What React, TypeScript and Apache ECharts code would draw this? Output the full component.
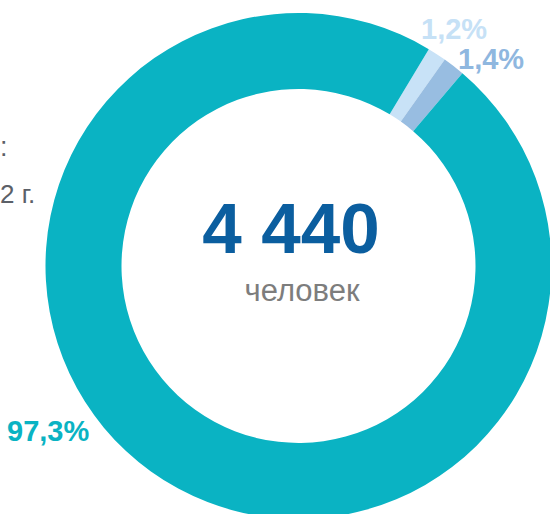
import React, { useEffect, useRef } from "react";
import * as echarts from "echarts";

const categories = ["Группа A", "Группа B", "Группа C"];
const shares = [1.2, 1.4, 97.3];
const shareLabels = ["1,2%", "1,4%", "97,3%"];
const sliceColors = ["#c8e2f7", "#98bde1", "#0ab3c3"];
const labelColors = ["#c6e1f6", "#8fb7df", "#0ab3c3"];
const totalText = "4 440";
const unitText = "человек";
const leftTexts = [":", "2 г."];

const FONT = "'Liberation Sans', Arial, sans-serif";

export default function App() {
  const ref = useRef<HTMLDivElement>(null);
  useEffect(() => {
    document.body.style.margin = "0";
    const chart = echarts.init(ref.current!, null, { renderer: "svg" });
    const labelPos = [
      [421, 29],
      [458, 59],
      [7, 431],
    ];
    chart.setOption({
      animation: false,
      series: [
        {
          type: "pie",
          center: [298.5, 266],
          radius: [177, 253],
          startAngle: 59,
          clockwise: true,
          silent: true,
          label: { show: false },
          labelLine: { show: false },
          itemStyle: { borderWidth: 0 },
          data: categories.map((c, i) => ({
            name: c,
            value: shares[i],
            itemStyle: { color: sliceColors[i] },
          })),
        },
      ],
      graphic: [
        ...shareLabels.map((t, i) => ({
          type: "text",
          x: labelPos[i][0],
          y: labelPos[i][1],
          style: {
            text: t,
            fill: labelColors[i],
            font: `bold 29px ${FONT}`,
            textAlign: "left",
            textVerticalAlign: "middle",
          },
        })),
        {
          type: "text",
          x: 291,
          y: 228,
          style: {
            text: totalText,
            fill: "#0b5e9f",
            font: `bold 71px ${FONT}`,
            textAlign: "center",
            textVerticalAlign: "middle",
          },
        },
        {
          type: "text",
          x: 302,
          y: 290,
          style: {
            text: unitText,
            fill: "#7d7d7d",
            font: `31px ${FONT}`,
            textAlign: "center",
            textVerticalAlign: "middle",
          },
        },
        {
          type: "text",
          x: 0,
          y: 147,
          style: {
            text: leftTexts[0],
            fill: "#5b6068",
            font: `27px ${FONT}`,
            textAlign: "left",
            textVerticalAlign: "middle",
          },
        },
        {
          type: "text",
          x: 0,
          y: 194,
          style: {
            text: leftTexts[1],
            fill: "#5b6068",
            font: `26px ${FONT}`,
            textAlign: "left",
            textVerticalAlign: "middle",
          },
        },
      ],
    });
    return () => chart.dispose();
  }, []);
  return (
    <div
      ref={ref}
      style={{ position: "absolute", left: 0, top: 0, width: 550, height: 514 }}
    />
  );
}
